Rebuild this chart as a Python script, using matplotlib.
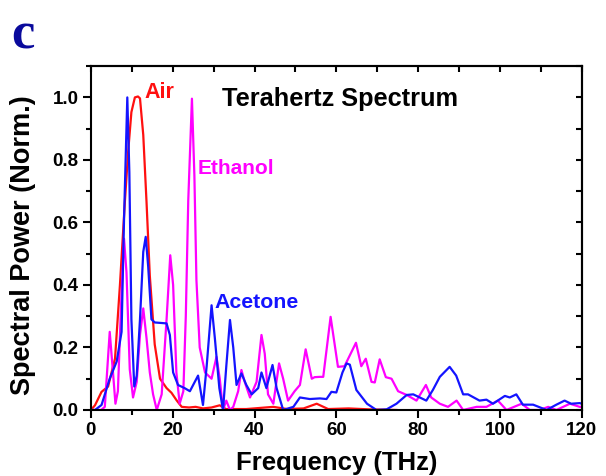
import matplotlib
matplotlib.use("Agg")
import matplotlib.pyplot as plt
from matplotlib.ticker import MultipleLocator, FormatStrFormatter

plt.rcParams['font.family'] = ['Liberation Sans', 'DejaVu Sans']
plt.rcParams['font.weight'] = 'bold'

# Air (red)
air_f = [0, 1.0, 2.6, 4.2, 5.9, 7.1, 8.3, 9.1, 9.9, 10.75, 11.5, 12.0, 12.8, 13.6, 14.4, 15.6,
         16.9, 18.5, 19.7, 21.0, 22.2, 24.0, 25.6, 27.4, 29.5, 31.5, 33.0, 38.0, 44.6, 48.0, 52.0,
         55.2, 58.0, 63.0, 68.0, 74.7]
air_v = [0.0, 0.015, 0.058, 0.075, 0.165, 0.40, 0.665, 0.825, 0.953, 1.0, 1.003, 0.997, 0.88, 0.665, 0.43, 0.21,
         0.10, 0.07, 0.055, 0.03, 0.01, 0.008, 0.01, 0.005, 0.008, 0.015, 0.003, 0.003, 0.01, 0.003, 0.005,
         0.02, 0.003, 0.005, 0.002, 0.0]

# Acetone (blue)
ace_f = [0, 1.0, 2.6, 4.6, 6.3, 7.5, 8.1, 8.9, 9.4, 9.9, 10.6, 11.2, 12.0, 12.8, 13.4, 14.0,
         14.8, 15.6, 18.5, 19.3, 20.1, 21.3, 22.9, 24.2, 26.2, 27.4, 28.3, 29.5, 30.3, 31.4, 32.3,
         33.1, 34.0, 34.8, 35.6, 36.8, 38.0, 39.3, 40.9, 41.7, 42.9, 44.4, 45.4, 47.0, 49.5, 51.1,
         53.5, 56.0, 57.6, 58.8, 60.0, 61.5, 62.5, 63.3, 64.9, 67.5, 69.8, 72.3, 74.7, 77.2, 78.8,
         82.0, 83.6, 85.3, 87.7, 89.3, 91.0, 92.2, 95.0, 96.7, 98.3, 101.2, 102.4, 104.0, 105.6,
         108.1, 111.4, 113.8, 115.8, 117.4, 119.5, 120]
ace_v = [0.0, 0.0, 0.016, 0.1, 0.155, 0.25, 0.61, 1.0, 0.76, 0.29, 0.075, 0.11, 0.29, 0.506, 0.554, 0.46,
         0.29, 0.28, 0.277, 0.24, 0.12, 0.08, 0.07, 0.06, 0.11, 0.016, 0.14, 0.335, 0.23, 0.07, 0.0,
         0.14, 0.288, 0.2, 0.08, 0.117, 0.08, 0.05, 0.07, 0.12, 0.07, 0.144, 0.07, 0.0, 0.01, 0.04,
         0.035, 0.037, 0.035, 0.058, 0.056, 0.12, 0.149, 0.145, 0.064, 0.02, 0.0, 0.002, 0.02, 0.048, 0.05,
         0.03, 0.064, 0.106, 0.138, 0.11, 0.05, 0.05, 0.03, 0.033, 0.02, 0.045, 0.04, 0.05, 0.017,
         0.017, 0.0, 0.017, 0.03, 0.02, 0.022, 0.02]

# Ethanol (magenta)
eth_f = [0, 2.5, 3.4, 4.6, 5.4, 6.0, 6.6, 7.5, 8.1, 8.7, 9.5, 10.3, 11.2, 12.0, 12.8, 13.6,
         14.4, 15.2, 16.1, 17.3, 18.5, 19.4, 20.1, 20.9, 21.7, 22.6, 23.2, 23.8, 24.7, 25.3, 25.8,
         26.6, 27.9, 29.5, 30.7, 31.5, 32.3, 33.1, 34.0, 34.8, 36.0, 36.8, 37.6, 38.9, 40.5, 41.7,
         42.5, 43.3, 44.6, 46.0, 47.0, 48.2, 49.8, 51.1, 52.5, 54.0, 54.7, 56.0, 56.8, 58.6, 60.4,
         62.0, 64.8, 66.1, 67.2, 68.6, 69.4, 70.6, 72.1, 73.5, 75.1, 77.2, 79.6, 81.9, 83.2, 85.3,
         87.3, 89.4, 91.0, 94.3, 96.7, 99.5, 101.6, 105.3, 107.3, 109.7, 111.8, 113.8, 117.1, 119.5, 120]
eth_v = [0.0, 0.0, 0.01, 0.25, 0.12, 0.02, 0.06, 0.378, 0.548, 0.44, 0.13, 0.04, 0.09, 0.24, 0.325, 0.23,
         0.12, 0.05, 0.0, 0.05, 0.29, 0.495, 0.4, 0.12, 0.02, 0.06, 0.3, 0.67, 0.996, 0.75, 0.415,
         0.2, 0.12, 0.1, 0.17, 0.1, 0.0, 0.03, 0.0, 0.01, 0.06, 0.128, 0.09, 0.04, 0.09, 0.24,
         0.18, 0.05, 0.02, 0.149, 0.1, 0.03, 0.06, 0.08, 0.194, 0.1, 0.105, 0.106, 0.106, 0.298, 0.138,
         0.14, 0.215, 0.14, 0.164, 0.09, 0.088, 0.162, 0.105, 0.1, 0.06, 0.048, 0.03, 0.08, 0.04, 0.02,
         0.01, 0.03, 0.0, 0.01, 0.01, 0.03, 0.0, 0.02, 0.0, 0.0, 0.01, 0.0, 0.02, 0.01, 0.01]

fig = plt.figure(figsize=(6.06, 4.76), dpi=100)
ax = fig.add_axes([0.150, 0.1387, 0.810, 0.7223])

ax.plot(air_f, air_v, color='#ff1010', lw=1.6, solid_joinstyle='round')
ax.plot(eth_f, eth_v, color='#ff00ff', lw=1.6, solid_joinstyle='round')
ax.plot(ace_f, ace_v, color='#1414ff', lw=1.6, solid_joinstyle='round')

ax.set_xlim(0, 120)
ax.set_ylim(0, 1.1)
ax.xaxis.set_major_locator(MultipleLocator(20))
ax.xaxis.set_minor_locator(MultipleLocator(10))
ax.yaxis.set_major_locator(MultipleLocator(0.2))
ax.yaxis.set_minor_locator(MultipleLocator(0.1))
ax.yaxis.set_major_formatter(FormatStrFormatter('%.1f'))

for s in ax.spines.values():
    s.set_linewidth(1.5)
ax.tick_params(which='both', direction='out', width=1.5, labelsize=13.5, top=False, right=False, pad=3)
ax.tick_params(which='major', length=6)
ax.tick_params(which='minor', length=3.5)

# inward ticks on top and right
ax2 = ax.secondary_xaxis('top')
ax2.xaxis.set_major_locator(MultipleLocator(10))
ax2.tick_params(direction='in', width=1.5, length=4, labeltop=False)
ax3 = ax.secondary_yaxis('right')
ax3.yaxis.set_major_locator(MultipleLocator(0.1))
ax3.tick_params(direction='in', width=1.5, length=4, labelright=False)
for a in (ax2, ax3):
    for s in a.spines.values():
        s.set_linewidth(1.5)

for lab in ax.get_xticklabels() + ax.get_yticklabels():
    lab.set_fontweight('bold')

ax.set_xlabel('Frequency (THz)', fontsize=18.5, fontweight='bold')
ax.xaxis.set_label_coords(0.5, -0.118)
ax.set_ylabel('Spectral Power (Norm.)', fontsize=19.5, fontweight='bold')
ax.yaxis.set_label_coords(-0.112, 0.48)

ax.text(13.2, 0.997, 'Air', color='#ff1010', fontsize=15.5, fontweight='bold')
ax.text(32.0, 0.971, 'Terahertz Spectrum', color='black', fontsize=18.3, fontweight='bold')
ax.text(26.1, 0.754, 'Ethanol', color='#ff00ff', fontsize=15, fontweight='bold')
ax.text(30.3, 0.326, 'Acetone', color='#1414ff', fontsize=15.3, fontweight='bold')

fig.text(0.018, 0.975, 'c', color='#0a0a9c', fontsize=38, fontweight='bold',
         family=['Liberation Serif', 'DejaVu Serif'], va='top')

fig.savefig('out.png', dpi=100)
